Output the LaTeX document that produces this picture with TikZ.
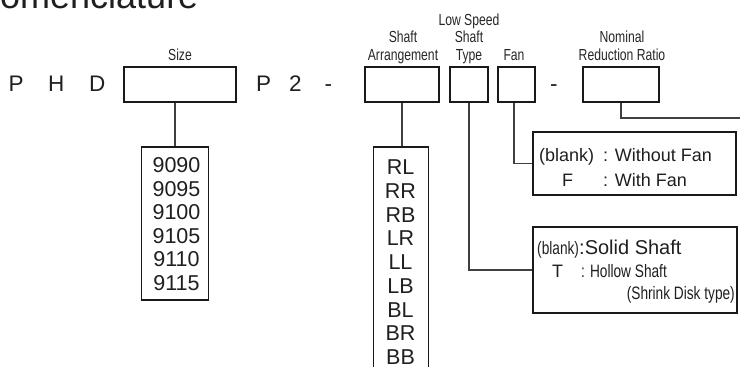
\documentclass[tikz,border=0pt]{standalone}
\usepackage{fontspec}
\setmainfont{Liberation Sans}
\newfontfamily\narrowfont[FakeStretch=0.76]{Liberation Sans}
\begin{document}
\begin{tikzpicture}[x=1pt,y=-1pt,
  box/.style={draw=black!90, line width=1.8pt, rectangle, inner sep=0pt},
  conn/.style={draw=black!75, line width=1.2pt},
  big/.style={font=\fontsize{22.5}{24}\selectfont, text=black!88, inner sep=0pt, anchor=base west},
  lbl/.style={font=\narrowfont\fontsize{16}{18}\selectfont, text=black!85, inner sep=0pt, anchor=base},
  item/.style={font=\fontsize{21.5}{24}\selectfont, text=black!88, inner sep=0pt, anchor=base},
  leg/.style={font=\fontsize{18}{20}\selectfont, text=black!88, inner sep=0pt, anchor=base west},
  legn/.style={font=\narrowfont\fontsize{18}{20}\selectfont, text=black!88, inner sep=0pt, anchor=base west}]
\useasboundingbox (0,0) rectangle (740,367);
\clip (0,0) rectangle (740,367);

\node[font=\fontsize{36}{40}\selectfont, text=black!88, inner sep=0pt, anchor=base west] (title) at (-26,8) {Nomenclature};

% main code row
\node[big] (p1) at (8.5,91) {P};
\node[big] (h1) at (48,91) {H};
\node[big] (d1) at (89,91) {D};
\node[big] (p2) at (256,91) {P};
\node[big] (n2) at (289,91) {2};
\node[big] (m1) at (324.5,91) {-};
\node[big] (m2) at (550,91) {-};

% top boxes
\node[box, minimum width=112pt, minimum height=35pt] (sizebox) at (180,84.5) {};
\node[box, minimum width=74pt, minimum height=35pt] (arrbox) at (402,84.5) {};
\node[box, minimum width=38pt, minimum height=35pt] (typebox) at (469,84.5) {};
\node[box, minimum width=37pt, minimum height=35pt] (fanbox) at (516.5,84.5) {};
\node[box, minimum width=76pt, minimum height=35pt] (nombox) at (621,84.5) {};

% labels
\node[lbl] (lsize) at (180,60) {Size};
\node[lbl] (larr1) at (403,42.5) {Shaft};
\node[lbl] (larr2) at (403,60) {Arrangement};
\node[lbl] (ltype1) at (469,25) {Low Speed};
\node[lbl] (ltype2) at (469,42.5) {Shaft};
\node[lbl] (ltype3) at (469,60) {Type};
\node[lbl] (lfan) at (514,60) {Fan};
\node[lbl] (lnom1) at (622,42.5) {Nominal};
\node[lbl] (lnom2) at (622,60) {Reduction Ratio};

% size list
\node[box, minimum width=67pt, minimum height=153pt] (sizelist) at (175,223.5) {};
\foreach \t [count=\i] in {9090,9095,9100,9105,9110,9115}
  \node[item] (sz\i) at (176.5,{172.5+(\i-1)*23.6}) {\t};

% arrangement list
\node[box, minimum width=55pt, minimum height=240pt] (arrlist) at (401,267) {};
\foreach \t [count=\i] in {RL,RR,RB,LR,LL,LB,BL,BR,BB}
  \node[item] (ar\i) at (400.5,{174.5+(\i-1)*23.75}) {\t};

% fan legend
\node[box, minimum width=203pt, minimum height=63pt] (fanleg) at (634.5,163.5) {};
\node[leg] (fb) at (539,161.5) {(blank)};
\node[leg] (fw) at (603,161.5) {: Without Fan};
\node[leg] (ff) at (562,186.5) {F};
\node[leg] (fwf) at (603,186.5) {: With Fan};

% type legend
\node[box, minimum width=204pt, minimum height=86pt] (typeleg) at (635,270) {};
\node[legn] (tb) at (537,254) {(blank)};
\node[font=\fontsize{20}{22}\selectfont, text=black!88, inner sep=0pt, anchor=base west] (ts) at (579,254) {:Solid Shaft};
\node[leg] (tt) at (552,277) {T};
\node[legn] (th) at (581,277) {: Hollow Shaft};
\node[legn, anchor=base east] (tsd) at (735,299) {(Shrink Disk type)};

% connectors
\coordinate (nomend) at (745,118);
\draw[conn] (sizebox.south -| sizelist.north) -- (sizelist.north);
\draw[conn] (arrbox.south) -- (arrbox.south |- arrlist.north);
\draw[conn] (typebox.south) |- (typeleg.west);
\draw[conn] (fanbox.south -| 514,0) |- (fanleg.west);
\draw[conn] (nombox.south) |- (nomend);
\end{tikzpicture}
\end{document}
